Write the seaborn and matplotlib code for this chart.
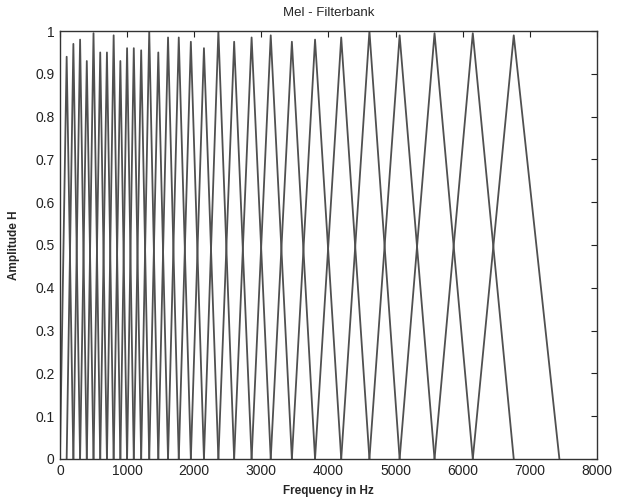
import numpy as np
import pandas as pd
import matplotlib
matplotlib.use("Agg")
import matplotlib.pyplot as plt
import seaborn as sns

# filter edge frequencies in Hz; filter i runs
# from edges[i] up to a peak at edges[i+1] and back down at edges[i+2]
edges = [0, 100, 200, 300, 400, 500, 600, 700, 800, 900, 1000,
         1100, 1210, 1330, 1465, 1610, 1770, 1950, 2145, 2360, 2595,
         2855, 3140, 3455, 3800, 4190, 4610, 5060, 5580, 6150, 6760, 7440]

# peak height of each filter
peaks = [0.94, 0.97, 0.98, 0.93, 0.995, 0.95, 0.95, 0.99, 0.93, 0.96,
         0.96, 0.955, 1.0, 0.95, 0.985, 0.985, 0.975, 0.96, 1.0, 0.975,
         0.985, 0.99, 0.975, 0.98, 0.985, 1.0, 0.99, 0.995, 0.995, 0.99,
         1.0]

x_ticks = [0, 1000, 2000, 3000, 4000, 5000, 6000, 7000, 8000]
y_ticks = [0, 0.1, 0.2, 0.3, 0.4, 0.5, 0.6, 0.7, 0.8, 0.9, 1]
y_labels = ["0", "0.1", "0.2", "0.3", "0.4", "0.5", "0.6", "0.7", "0.8", "0.9", "1"]


def main():
    rows = []
    for i in range(len(edges) - 2):
        rows.append({"filter": i, "freq": edges[i], "amp": 0.0})
        rows.append({"filter": i, "freq": edges[i + 1], "amp": peaks[i]})
        rows.append({"filter": i, "freq": edges[i + 2], "amp": 0.0})
    df = pd.DataFrame(rows)

    sns.set_style("white")
    plt.rcParams["font.family"] = ["Liberation Sans", "DejaVu Sans"]

    fig = plt.figure(figsize=(6.18, 5.01), dpi=100)
    ax = fig.add_axes([0.097, 0.084, 0.869, 0.854])

    sns.lineplot(data=df, x="freq", y="amp", units="filter", estimator=None,
                 sort=False, color="#505050", linewidth=1.3, ax=ax)

    ax.set_xlim(0, 8000)
    ax.set_ylim(0, 1)
    ax.set_xticks(x_ticks)
    ax.set_xticklabels([str(t) for t in x_ticks])
    ax.set_yticks(y_ticks)
    ax.set_yticklabels(y_labels)
    ax.tick_params(direction="in", length=4, width=0.8, top=True, right=True,
                   labelsize=10, colors="#222222", pad=4)
    for s in ax.spines.values():
        s.set_color("#333333")
        s.set_linewidth(1.0)

    ax.set_title("Mel - Filterbank", fontsize=9.5, pad=11)
    ax.set_xlabel("Frequency in Hz", fontsize=8.5, fontweight="bold", labelpad=5)
    ax.set_ylabel("Amplitude H", fontsize=8.5, fontweight="bold", labelpad=11)

    fig.savefig("out.png", dpi=100)
    plt.close(fig)


if __name__ == "__main__":
    main()
